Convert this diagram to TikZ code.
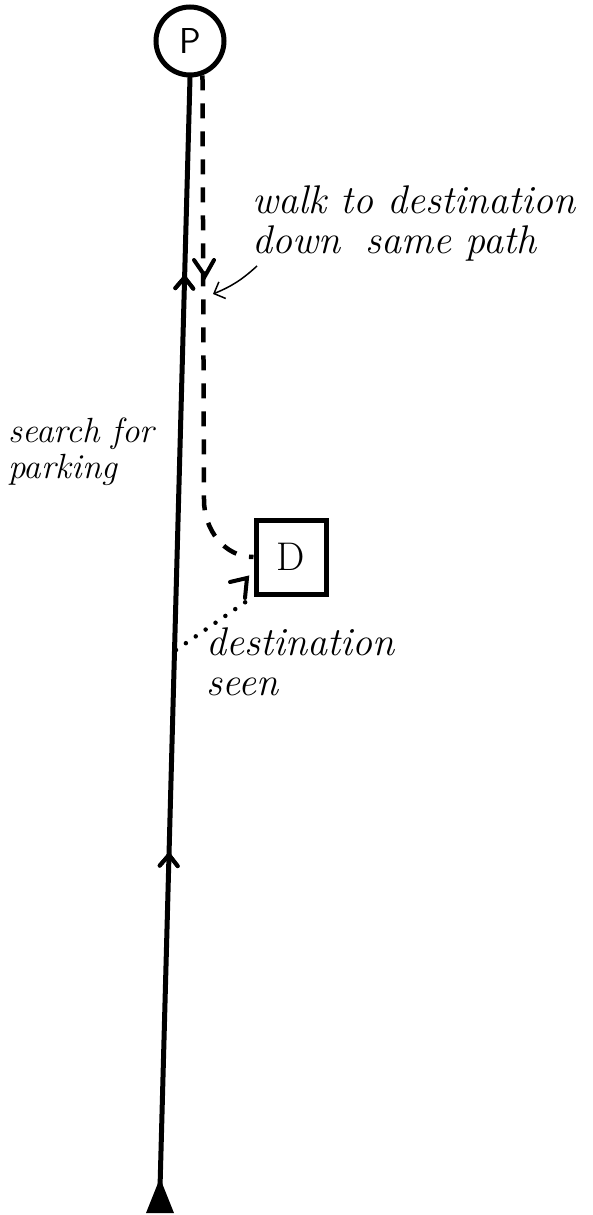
\documentclass[tikz,border=0pt]{standalone}
\usepackage{tikz}
\usetikzlibrary{arrows.meta, decorations.markings}

\tikzset{
  road/.style={line width=5pt, line cap=round},
  walkline/.style={line width=4.5pt, dash pattern=on 15pt off 13pt},
  seenline/.style={line width=4.5pt, line cap=round, dash pattern=on 0pt off 12pt},
  upmark/.style={decoration={markings,
      mark=at position #1 with {\draw[line width=4pt, line cap=round] (-11pt,-9pt) -- (0,0) -- (-11pt,9pt);}},
      postaction={decorate}},
  note/.style={font=\fontsize{40}{40}\selectfont\itshape, align=left, inner sep=0pt}
}

\begin{document}
\begin{tikzpicture}[x=1pt, y=-1pt]
  \useasboundingbox (0,0) rectangle (593,1215);

  % Parkplatz und Ziel
  \node[circle, draw, line width=5pt, minimum size=68pt, inner sep=0pt,
        font=\fontsize{36}{38}\selectfont\sffamily] (P) at (190,41) {P};
  \node[draw, line width=5pt, minimum width=70pt, minimum height=74pt,
        font=\fontsize{40}{44}\selectfont] (D) at (291,557) {D};

  % Startpunkt
  \coordinate (start) at (160,1188);
  \fill (start) ++(-14,25) -- ++(28,0) -- (160,1178) -- cycle;

  % Suche nach Parkplatz
  \draw[road, upmark=0.3, upmark=0.82] (start) -- (P.south);

  % Zu Fuss zurueck zum Ziel
  \coordinate (bend) at (204,500);
  \draw[walkline] (P.-70) -- (bend) to[out=-90, in=180] (D.west);
  \draw[line width=4pt, line cap=round] (194,260) -- (205,276) -- (214,260);

  % Ziel gesehen
  \coordinate (seen) at (176,650);
  \draw[seenline] (seen) -- (D.south west);
  \draw[line width=4pt, line cap=round] (230,582) -- (247,578) -- (245,598);

  % Beschriftungen
  \node[note, anchor=north west] (walk) at (252,186) {walk to destination\\down\; same path};
  \draw[line width=1.5pt, -{Straight Barb[length=9pt]}] (257,266) to[bend left=10] (213,294);
  \node[note, anchor=north west, font=\fontsize{35}{36}\selectfont\itshape] (search) at (8,418) {search for\\parking};
  \node[note, anchor=north west] (dest) at (206,628) {destination\\seen};
\end{tikzpicture}
\end{document}
